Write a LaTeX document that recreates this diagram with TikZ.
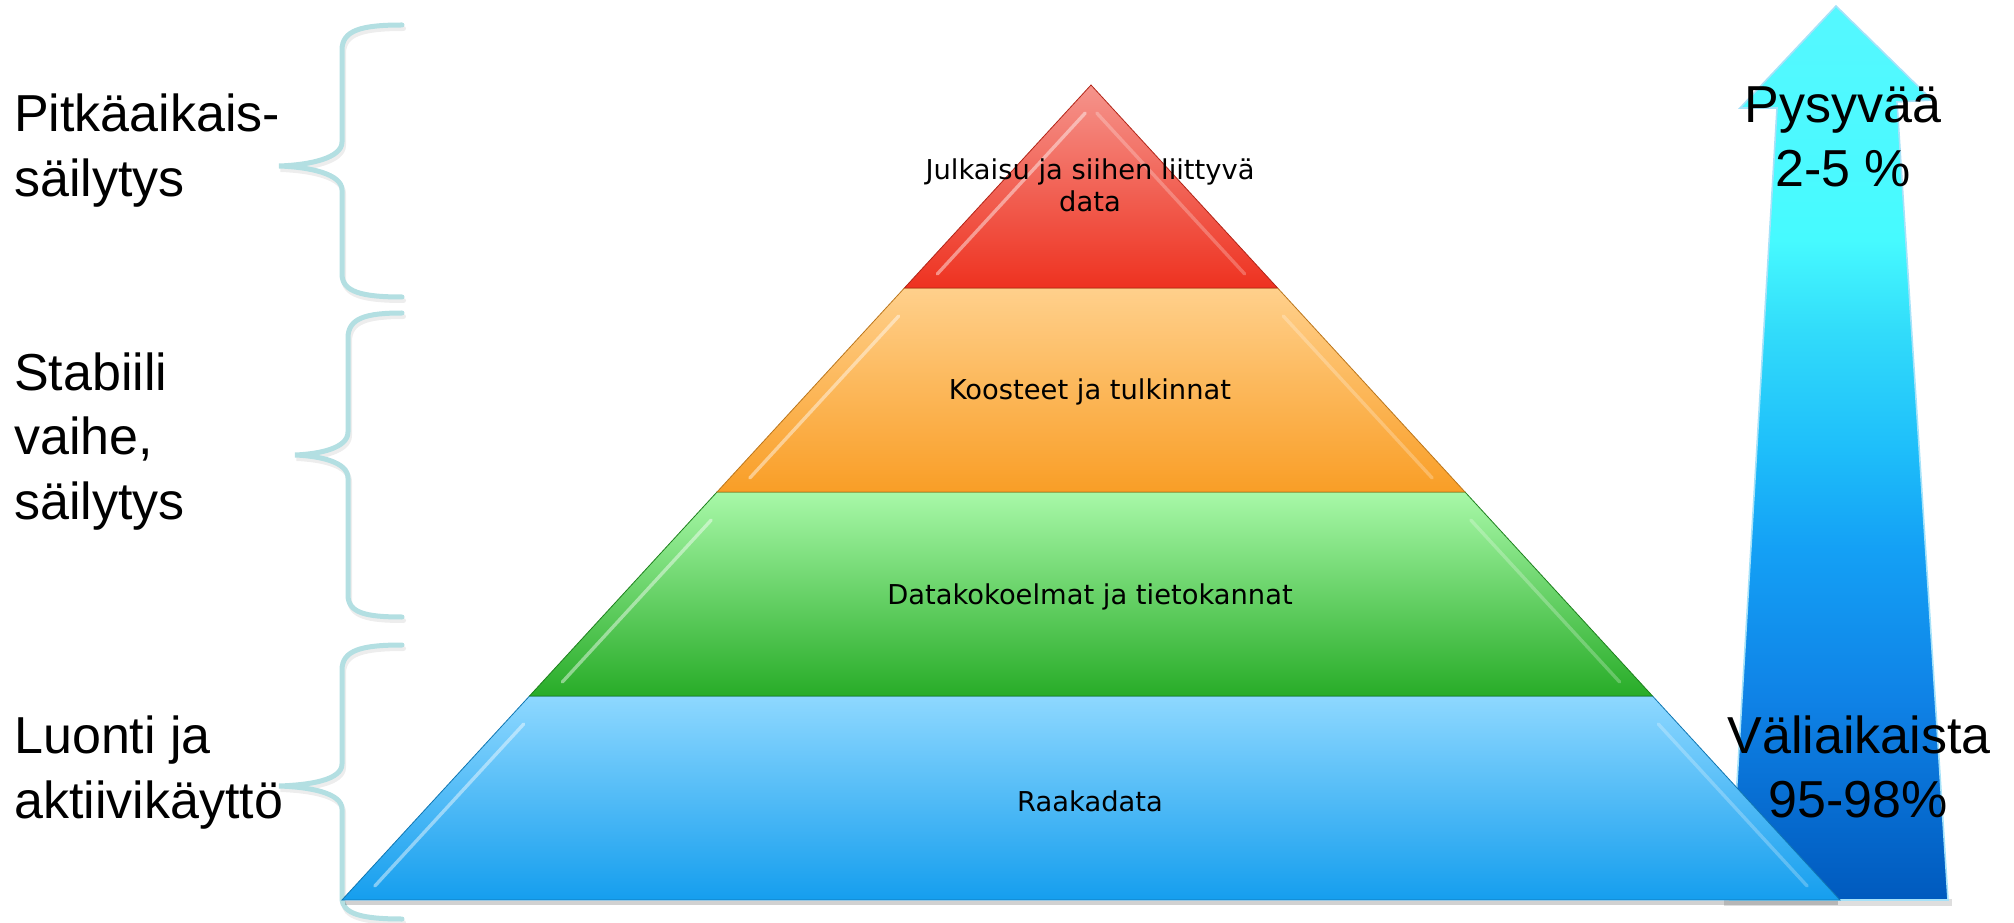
\documentclass[tikz,border=0pt]{standalone}
\usepackage{fontspec}
\setmainfont{Liberation Sans}
\newfontfamily\verd{DejaVu Sans}
\definecolor{braceC}{HTML}{B3DFE2}
\definecolor{redT}{HTML}{F5948C}
\definecolor{redB}{HTML}{EE3220}
\definecolor{orT}{HTML}{FFD08C}
\definecolor{orB}{HTML}{F99E26}
\definecolor{grT}{HTML}{A8F8A8}
\definecolor{grB}{HTML}{28AC28}
\definecolor{blT}{HTML}{8ED8FF}
\definecolor{blB}{HTML}{159EEE}
\definecolor{ac0}{HTML}{005ABE}
\definecolor{ac1}{HTML}{0F82E6}
\definecolor{ac2}{HTML}{14A0F5}
\definecolor{ac3}{HTML}{1EBEFA}
\definecolor{ac4}{HTML}{32DCFA}
\definecolor{ac5}{HTML}{46FAFF}
\definecolor{ac6}{HTML}{55F8FF}
\pgfdeclareverticalshading{arrowsh}{100bp}{color(0bp)=(ac0); color(25bp)=(ac0);
  color(36.2bp)=(ac1); color(44.6bp)=(ac2); color(50.2bp)=(ac3); color(56.9bp)=(ac4);
  color(61.9bp)=(ac5); color(75bp)=(ac6); color(100bp)=(ac6)}
\begin{document}
\begin{tikzpicture}[x=0.75pt,y=-0.75pt,
  brace/.style={draw=braceC, line width=3.75pt, line cap=round},
  braceshadow/.style={draw=black, opacity=0.07, line width=3.75pt, line cap=round},
  big/.style={font=\fontsize{39}{48}\selectfont, inner sep=0pt},
  tiertext/.style={font=\verd\fontsize{20.5}{24}\selectfont, inner sep=0pt},
  hl/.style={draw=white, line width=2.5pt, opacity=0.45, line cap=round},
  hr/.style={draw=white, line width=2.5pt, opacity=0.25, line cap=round},
  shadowline/.style={draw=black, opacity=0.18, line width=3pt}]
\useasboundingbox (0,0) rectangle (2014,923);

% ---------- braces ----------
\foreach \dx/\dy/\st in {1.5/3.5/braceshadow, 0/0/brace}{
\begin{scope}[shift={(\dx,\dy)}]
\draw[\st] (402,25) .. controls (362,25) and (342,30) .. (342,50) -- (342,142)
  .. controls (342,158) and (310,165) .. (279,166)
  .. controls (310,167) and (342,174) .. (342,190) -- (342,274)
  .. controls (342,292) and (362,297) .. (402,297);
\draw[\st] (402,313) .. controls (366,313) and (348,318) .. (348,338) -- (348,432)
  .. controls (348,448) and (320,454) .. (295,455)
  .. controls (320,456) and (348,462) .. (348,478) -- (348,595)
  .. controls (348,613) and (366,617) .. (402,617);
\draw[\st] (402,645) .. controls (362,645) and (342,650) .. (342,670) -- (342,764)
  .. controls (342,780) and (310,785) .. (279,786)
  .. controls (310,787) and (342,793) .. (342,809) -- (342,898)
  .. controls (342,914) and (362,919) .. (402,919);
\end{scope}}

% ---------- arrow ----------
\fill[black, opacity=0.13] (1724,899) rectangle (1952,906);
\path[shade, shading=arrowsh, draw=white!65!cyan, line width=1.2pt]
  (1836,6) -- (1932,100) -- (1897,102) -- (1948,900) -- (1730,900) -- (1777,108) -- (1740,108) -- cycle;

% ---------- pyramid ----------
\draw[shadowline] (345,903) -- (1838,903);
\path[top color=blT, bottom color=blB, draw=blB!75!black, line width=0.6pt]
  (529.5,696) -- (1652.5,696) -- (1840,900) -- (342,900) -- cycle;
\path[top color=grT, bottom color=grB, draw=grB!75!black, line width=0.6pt]
  (717,492) -- (1465,492) -- (1652.5,696) -- (529.5,696) -- cycle;
\path[top color=orT, bottom color=orB, draw=orB!75!black, line width=0.6pt]
  (904.4,288) -- (1277.6,288) -- (1465,492) -- (717,492) -- cycle;
\path[top color=redT, bottom color=redB, draw=redB!75!black, line width=0.6pt]
  (1091,85) -- (1277.6,288) -- (904.4,288) -- cycle;

% bevel highlights
\foreach \t/\b in {85/288,288/492,492/696,696/900}{
  \pgfmathsetmacro\ya{\b-14}
  \pgfmathsetmacro\yb{\t+28}
  \pgfmathsetmacro\xla{1091-0.919*(\ya-85)+20}
  \pgfmathsetmacro\xlb{1091-0.919*(\yb-85)+20}
  \pgfmathsetmacro\xra{1091+0.919*(\ya-85)-20}
  \pgfmathsetmacro\xrb{1091+0.919*(\yb-85)-20}
  \draw[hl] (\xla,\ya) -- (\xlb,\yb);
  \draw[hr] (\xra,\ya) -- (\xrb,\yb);
}

% ---------- pyramid texts ----------
\node[tiertext, anchor=base] (t1a) at (1090,180) {Julkaisu ja siihen liittyvä};
\node[tiertext, anchor=base] (t1b) at (1090,212) {data};
\node[tiertext, anchor=base] (t2) at (1090,400) {Koosteet ja tulkinnat};
\node[tiertext, anchor=base] (t3) at (1090,604) {Datakokoelmat ja tietokannat};
\node[tiertext, anchor=base] (t4) at (1090,811) {Raakadata};

% ---------- left labels ----------
\node[big, anchor=base west] (l1a) at (14,132) {Pitkäaikais-};
\node[big, anchor=base west] (l1b) at (14,197) {säilytys};
\node[big, anchor=base west] (l2a) at (14,391) {Stabiili};
\node[big, anchor=base west] (l2b) at (14,455) {vaihe,};
\node[big, anchor=base west] (l2c) at (14,519) {säilytys};
\node[big, anchor=base west] (l3a) at (14,753) {Luonti ja};
\node[big, anchor=base west] (l3b) at (14,818) {aktiivikäyttö};

% ---------- right labels ----------
\node[big, anchor=base] (r1a) at (1843,123) {Pysyvää};
\node[big, anchor=base] (r1b) at (1843,187) {2-5 \%};
\node[big, anchor=base] (r2a) at (1859,753) {Väliaikaista};
\node[big, anchor=base] (r2b) at (1858,817) {95-98\%};
\end{tikzpicture}
\end{document}
